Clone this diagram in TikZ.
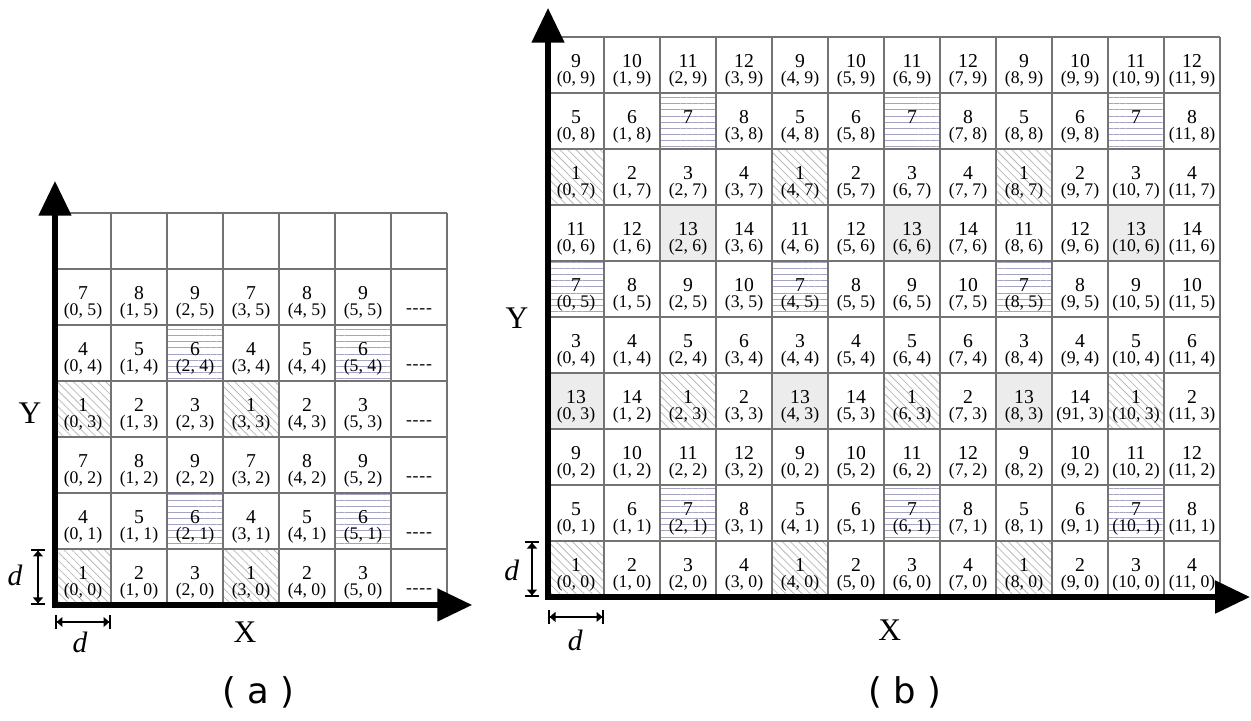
\documentclass[tikz,border=0pt]{standalone}
\usepackage{fontspec}
\setmainfont{Liberation Serif}
\newfontfamily\capfont{DejaVu Sans}
\usetikzlibrary{arrows.meta,patterns.meta}

% coordinate labels printed differently from (x, y) in grid (b)
\newcommand\setcrd[2]{\expandafter\def\csname crd-#1\endcsname{#2}}
\setcrd{1-3}{(1, 2)}
\setcrd{9-3}{(91, 3)}
\setcrd{4-2}{(0, 2)}
\setcrd{2-8}{}
\setcrd{6-8}{}
\setcrd{10-8}{}
\newcommand\dashcell{-\kern0.4pt-\kern0.4pt-\kern0.4pt-}

\tikzset{
  cellgrid/.style={black!55, line width=0.7pt},
  axisline/.style={line width=2.6pt, arrows={Triangle[width=0.57cm,length=0.62cm]-Triangle[width=0.57cm,length=0.62cm]}},
  dimline/.style={line width=0.8pt, arrows={Bar[width=7pt]Triangle[length=3pt,width=5pt]-Triangle[length=3pt,width=5pt]Bar[width=7pt]}},
  hatch/.style={pattern={Lines[angle=-45,distance=2.9pt,line width=0.4pt]}, pattern color=gray!55},
  stripes/.style={pattern={Lines[angle=0,distance=3.1pt,line width=0.4pt]}, pattern color={rgb,255:red,165;green,165;blue,195}},
  shade13/.style={fill=gray!15},
  num/.style={font=\fontsize{10}{11}\selectfont, inner sep=0pt},
  crd/.style={font=\fontsize{9}{10}\selectfont, inner sep=0pt},
  axlabel/.style={font=\fontsize{16}{18}\selectfont},
  dlabel/.style={font=\fontsize{15}{17}\selectfont\itshape},
  capt/.style={font=\capfont\fontsize{18}{20}\selectfont}
}

\begin{document}
\begin{tikzpicture}
\useasboundingbox (0,0) rectangle (22.339,12.857);

\coordinate (OA) at (0.982,2.054);
\coordinate (YA) at (0.982,9.625);
\coordinate (XA) at (8.43,2.054);
\coordinate (OB) at (9.786,2.196);
\coordinate (YB) at (9.786,12.714);
\coordinate (XB) at (22.32,2.196);

% grid (a)
\begin{scope}[shift={(OA)}]
\foreach \x in {0,...,5}
  \foreach \y in {0,...,5} {
    \pgfmathtruncatemacro\n{mod(\x,3)+1+3*mod(\y,3)}
    \ifnum\n=1 \fill[hatch] (\x,\y) rectangle ++(1,1); \fi
    \ifnum\n=6 \fill[stripes] (\x,\y) rectangle ++(1,1); \fi
    \node[num] (a-\x-\y) at (\x+0.5,\y+0.57) {\n};
    \node[crd] (ac-\x-\y) at (\x+0.5,\y+0.24) {(\x, \y)};
  }
\foreach \y in {0,...,5}
  \node[crd] (ad-\y) at (6.5,\y+0.24) {\dashcell};
\draw[cellgrid] (0,0) grid (7,7);
\end{scope}

% grid (b)
\begin{scope}[shift={(OB)}]
\foreach \x in {0,...,11}
  \foreach \y in {0,...,9} {
    \pgfmathtruncatemacro\n{mod(4*\y+mod(\x,4),14)+1}
    \ifnum\n=1 \fill[hatch] (\x,\y) rectangle ++(1,1); \fi
    \ifnum\n=7 \fill[stripes] (\x,\y) rectangle ++(1,1); \fi
    \ifnum\n=13 \fill[shade13] (\x,\y) rectangle ++(1,1); \fi
    \node[num] (b-\x-\y) at (\x+0.5,\y+0.57) {\n};
    \node[crd] (bc-\x-\y) at (\x+0.5,\y+0.24)
      {\ifcsname crd-\x-\y\endcsname\csname crd-\x-\y\endcsname\else(\x, \y)\fi};
  }
\draw[cellgrid] (0,0) grid (12,10);
\end{scope}

\draw[axisline] (YA) -- (OA) -- (XA);
\draw[axisline] (YB) -- (OB) -- (XB);

% cell size markers
\coordinate (DA1) at (0.679,2.054);
\coordinate (DA2) at (0.679,3.054);
\coordinate (DA3) at (0.982,1.75);
\coordinate (DA4) at (1.982,1.75);
\coordinate (DB1) at (9.5,2.196);
\coordinate (DB2) at (9.5,3.196);
\coordinate (DB3) at (9.786,1.84);
\coordinate (DB4) at (10.786,1.84);
\draw[dimline] (DA1) -- (DA2);
\draw[dimline] (DA3) -- (DA4);
\draw[dimline] (DB1) -- (DB2);
\draw[dimline] (DB3) -- (DB4);

\node[dlabel] (dA1) at (0.27,2.59) {d};
\node[dlabel] (dA2) at (1.43,1.38) {d};
\node[dlabel] (dB1) at (9.14,2.68) {d};
\node[dlabel] (dB2) at (10.27,1.43) {d};

\node[axlabel] (ya) at (0.536,5.48) {Y};
\node[axlabel] (xa) at (4.375,1.57) {X};
\node[axlabel] (yb) at (9.232,7.18) {Y};
\node[axlabel] (xb) at (15.89,1.6) {X};

\node[capt] (ca) at (4.607,0.5) {( a )};
\node[capt] (cb) at (16.16,0.5) {( b )};
\end{tikzpicture}
\end{document}
